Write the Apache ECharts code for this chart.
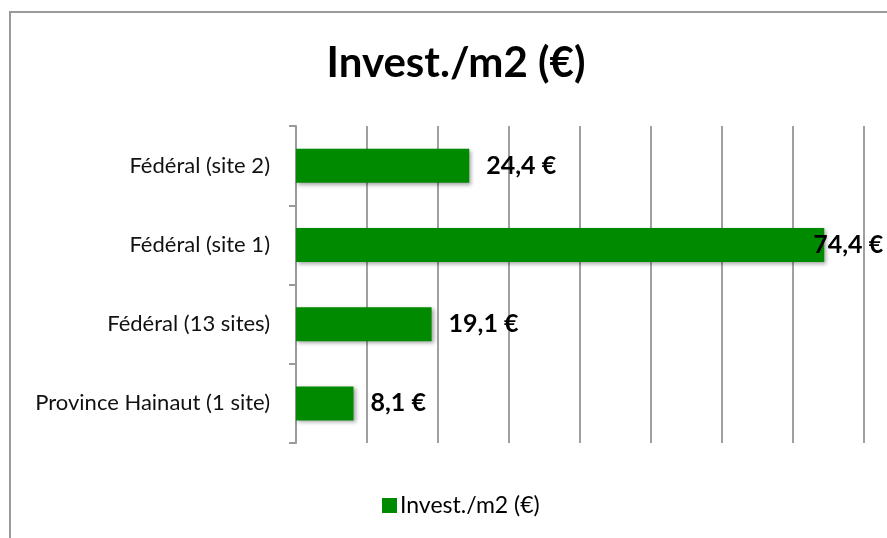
<!DOCTYPE html>
<html>
<head>
<meta charset="utf-8">
<script src="https://cdn.jsdelivr.net/npm/echarts@6/dist/echarts.min.js"></script>
<style>
  html, body { margin: 0; padding: 0; background: #fff; overflow: hidden; }
  #chart { width: 887px; height: 538px; }
</style>
</head>
<body>
<div id="chart"></div>
<script>
// categories bottom -> top (category y axis starts at the bottom)
const categories = [
  'Province Hainaut (1 site)',
  'Fédéral (13 sites)',
  'Fédéral (site 1)',
  'Fédéral (site 2)'
]
const investPerM2 = [8.1, 19.1, 74.4, 24.4]
const seriesName = 'Invest./m2 (€)'
const axisMax = 80
const axisStep = 10

const fmt = v => v.toFixed(1).replace('.', ',') + ' €'

let myChart = echarts.init(document.getElementById('chart'))
const font = 'Lato, "Open Sans", sans-serif'

var option = {
  backgroundColor: '#fff',
  animation: false,
  graphic: [
    {
      // chart frame (cut off on the right/bottom like the original)
      type: 'rect',
      shape: { x: 10, y: 12, width: 1000, height: 1000 },
      style: { fill: 'none', stroke: '#9a9a9a', lineWidth: 2 },
      silent: true
    }
  ],
  title: {
    text: seriesName,
    left: 451,
    textAlign: 'center',
    top: 37,
    textStyle: { fontFamily: font, fontSize: 42, fontWeight: 'bold', color: '#000' }
  },
  legend: {
    data: [seriesName],
    top: 489,
    left: 377,
    itemWidth: 15,
    itemHeight: 15,
    itemGap: 3,
    icon: 'rect',
    textStyle: { fontFamily: font, fontSize: 23, color: '#000', padding: [0, 0, 0, -2] }
  },
  grid: {
    left: 296,
    right: 23,
    top: 126,
    bottom: 95,
    containLabel: false
  },
  xAxis: {
    type: 'value',
    min: 0,
    max: axisMax,
    interval: axisStep,
    axisLine: { show: false },
    axisTick: { show: false },
    axisLabel: { show: false },
    splitLine: {
      show: true,
      lineStyle: { color: '#a0a0a0', width: 2 }
    }
  },
  yAxis: {
    type: 'category',
    data: categories,
    axisLine: { show: true, lineStyle: { color: '#9a9a9a', width: 2 } },
    axisTick: { show: true, length: 7, lineStyle: { color: '#9a9a9a', width: 2 } },
    axisLabel: { fontFamily: font, fontSize: 22, color: '#111', margin: 26 }
  },
  series: [
    {
      name: seriesName,
      type: 'bar',
      barWidth: 34,
      itemStyle: {
        color: '#008a00',
        shadowBlur: 4,
        shadowColor: 'rgba(0,0,0,0.35)',
        shadowOffsetX: 2,
        shadowOffsetY: 2
      },
      label: {
        show: true,
        position: 'right',
        distance: 17,
        formatter: p => fmt(p.value),
        fontFamily: font,
        fontSize: 25,
        fontWeight: 'bold',
        color: '#000'
      },
      // the longest label is pulled back inside the chart frame
      data: investPerM2.map(v =>
        v > axisMax - 10 ? { value: v, label: { offset: [-28, 0] } } : v
      )
    }
  ]
}
window.onresize = myChart.resize
myChart.setOption(option)
</script>
</body>
</html>
